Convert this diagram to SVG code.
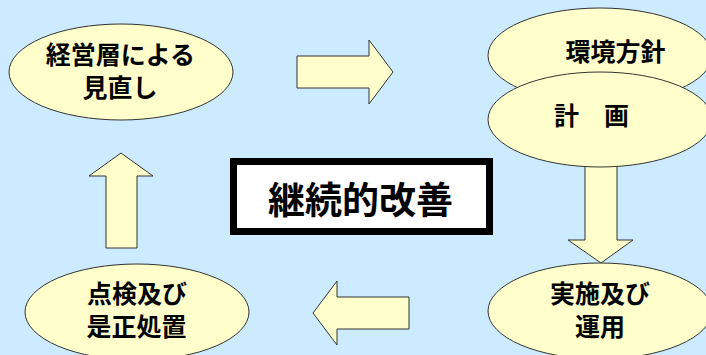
<svg xmlns="http://www.w3.org/2000/svg" width="706" height="355" viewBox="0 0 706 355">
<style>
.node{fill:#FFFFCC;stroke:#333333;stroke-width:1}
.arrow{fill:#FFFFCC;stroke:#333333;stroke-width:1;stroke-linejoin:miter}
.t{font-family:"Noto Sans CJK JP","Noto Sans CJK SC",sans-serif;font-weight:bold;font-size:25px;fill:#000000;text-anchor:middle}
.big{font-size:37px}
</style>
<rect x="0" y="0" width="706" height="355" fill="#CCEBFF"/>
<g id="connectors">
<polygon class="arrow" points="297,56 369,56 369,40 393,72 369,104 369,88 297,88"/>
<polygon class="arrow" points="585,160 617,160 617,240 633,240 601,263 568,240 585,240"/>
<polygon class="arrow" points="409,297 337,297 337,281 313,313 337,345 337,329 409,329"/>
<polygon class="arrow" points="106,248 106,176 89,176 121,153 153,176 137,176 137,248"/>
</g>
<g id="review">
<ellipse class="node" cx="121" cy="72" rx="112" ry="48"/>
<text class="t"><tspan x="120.5" y="63.5">経営層による</tspan><tspan x="120" y="96.5">見直し</tspan></text>
</g>
<g id="policy">
<ellipse class="node" cx="600" cy="55.5" rx="112" ry="47.5"/>
<text class="t" x="615.5" y="61">環境方針</text>
</g>
<g id="plan">
<ellipse class="node" cx="600" cy="119.5" rx="112" ry="47.5"/>
<text class="t" x="591.5" y="125">計　画</text>
</g>
<g id="implementation">
<ellipse class="node" cx="600" cy="311" rx="112" ry="48"/>
<text class="t"><tspan x="600" y="302.5">実施及び</tspan><tspan x="600" y="335.5">運用</tspan></text>
</g>
<g id="check">
<ellipse class="node" cx="137" cy="312" rx="112" ry="48"/>
<text class="t"><tspan x="137" y="303">点検及び</tspan><tspan x="136.5" y="336">是正処置</tspan></text>
</g>
<g id="center">
<rect x="233.5" y="161.5" width="256" height="70" fill="#FFFFFF" stroke="#000000" stroke-width="7"/>
<text class="t big" x="360.5" y="214">継続的改善</text>
</g>
</svg>
